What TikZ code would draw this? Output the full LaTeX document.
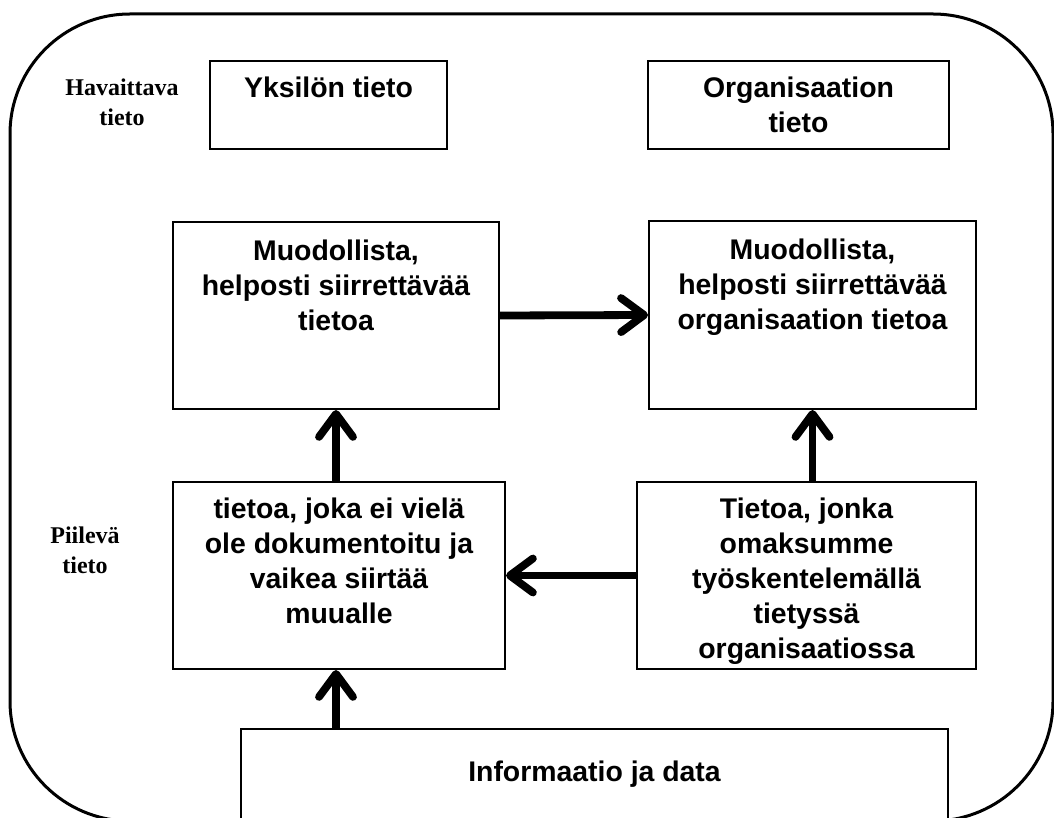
\documentclass[tikz,border=0pt]{standalone}
\usepackage{fontspec}
\setmainfont{Liberation Serif}
\setsansfont{Liberation Sans}
\usetikzlibrary{arrows.meta}
\tikzstyle{tietolaatikko}=[draw=black,line width=1pt,inner sep=0pt]
\tikzstyle{laatikkoteksti}=[anchor=north,align=center,inner sep=0pt,font=\sffamily\bfseries\fontsize{14.2}{17.5}\selectfont]
\tikzstyle{reunateksti}=[align=center,inner sep=0pt,font=\rmfamily\bfseries\fontsize{12}{15}\selectfont]
\tikzstyle{nuoli}=[line width=3.9pt,-{Straight Barb[length=11.5pt,width=17pt,round]}]

\begin{document}
\begin{tikzpicture}[x=0.5pt,y=-0.5pt]
  \useasboundingbox (0,0) rectangle (1054,818);
  \draw[line width=1.5pt,rounded corners=60pt] (10,14) rectangle (1053,821);

  \node[reunateksti] (havaittava) at (122,102) {Havaittava\\tieto};
  \node[reunateksti] (piileva) at (85,550) {Piilevä\\tieto};

  \node[tietolaatikko,minimum width=118.5pt,minimum height=44pt] (yks) at (328.5,105) {};
  \node[tietolaatikko,minimum width=150.5pt,minimum height=44pt] (org) at (798.5,105) {};
  \node[tietolaatikko,minimum width=163pt,minimum height=93.5pt] (muoL) at (336,315.5) {};
  \node[tietolaatikko,minimum width=163.5pt,minimum height=94pt] (muoR) at (812.5,315) {};
  \node[tietolaatikko,minimum width=166pt,minimum height=93.5pt] (piiL) at (339,575.5) {};
  \node[tietolaatikko,minimum width=169.5pt,minimum height=93.5pt] (omaR) at (806.5,575.5) {};
  \node[tietolaatikko,minimum width=353.5pt,minimum height=53pt] (info) at (594.5,782) {};

  \node[laatikkoteksti] (yksT) at ([yshift=-8.5pt]yks.north) {Yksilön tieto};
  \node[laatikkoteksti] (orgT) at ([yshift=-8.5pt]org.north) {Organisaation\\tieto};
  \node[laatikkoteksti] (muoLT) at ([yshift=-9.5pt]muoL.north) {Muodollista,\\helposti siirrettävää\\tietoa};
  \node[laatikkoteksti] (muoRT) at ([yshift=-9.5pt]muoR.north) {Muodollista,\\helposti siirrettävää\\organisaation tietoa};
  \node[laatikkoteksti] (piiLT) at ([yshift=-8.5pt]piiL.north) {tietoa, joka ei vielä\\ole dokumentoitu ja\\vaikea siirtää\\muualle};
  \node[laatikkoteksti] (omaRT) at ([yshift=-8.5pt]omaR.north) {Tietoa, jonka\\omaksumme\\työskentelemällä\\tietyssä\\organisaatiossa};
  \node[laatikkoteksti] (infoT) at ([yshift=-16.5pt]info.north) {Informaatio ja data};

  \draw[nuoli] (muoL.east) -- (muoR.west);
  \draw[nuoli] (omaR.west) -- (omaR.west -| piiL.east);
  \draw[nuoli] (piiL.north -| muoL.south) -- (muoL.south);
  \draw[nuoli] (omaR.north -| muoR.south) -- (muoR.south);
  \draw[nuoli] (info.north -| muoL.south) -- (piiL.south -| muoL.south);
\end{tikzpicture}
\end{document}
